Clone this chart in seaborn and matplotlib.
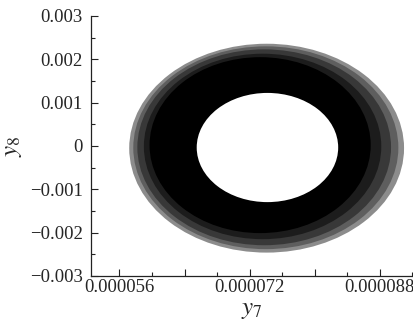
import matplotlib
matplotlib.use("Agg")
import matplotlib.pyplot as plt
import matplotlib.ticker as mtick
from matplotlib.patches import Ellipse
import pandas as pd
import seaborn as sns

# annulus: layers from outside in (y7, y8 data units)
layer_names = ["edge", "outer", "middle", "inner", "core", "hole"]
center_x = [74.1e-6, 74.0e-6, 73.8e-6, 73.6e-6, 73.3e-6, 74.2e-6]
center_y = [-0.00005, -0.00004, -0.00003, -0.00001, 0.00002, -0.000035]
half_width = [16.9e-6, 16.3e-6, 15.6e-6, 14.6e-6, 13.6e-6, 8.7e-6]
half_height = [0.00241, 0.00234, 0.00226, 0.00214, 0.00203, 0.00126]

x_labelled = [0.000056, 0.000072, 0.000088]
y_ticks = [-0.003, -0.002, -0.001, 0, 0.001, 0.002, 0.003]

layers = pd.DataFrame({"layer": layer_names, "cx": center_x, "cy": center_y,
                       "hw": half_width, "hh": half_height})
shades = {"edge": "#8c8c8c", "outer": "#5e5e5e", "middle": "#383838",
          "inner": "#1c1c1c", "core": "#000000", "hole": "#ffffff"}

sns.set_style("ticks")
plt.rcParams["font.family"] = ["Liberation Serif", "DejaVu Serif"]
plt.rcParams["mathtext.fontset"] = "stix"
plt.rcParams["axes.unicode_minus"] = True

fig = plt.figure(figsize=(4.14, 3.21), dpi=100)
ax = fig.add_axes([91 / 414, 45 / 321, 322 / 414, 260 / 321])

for _, row in layers.iterrows():
    ax.add_patch(Ellipse((row.cx, row.cy), 2 * row.hw, 2 * row.hh,
                         facecolor=shades[row.layer], edgecolor="none"))

ax.set_xlim(52.5e-6, 92.1e-6)
ax.set_ylim(-0.003, 0.003)

ax.xaxis.set_major_locator(mtick.MultipleLocator(8e-6))
ax.xaxis.set_minor_locator(mtick.MultipleLocator(4e-6))
def xfmt(v, pos):
    for t in x_labelled:
        if abs(v - t) < 1e-9:
            return f"{t:.6f}"
    return ""
ax.xaxis.set_major_formatter(mtick.FuncFormatter(xfmt))

ax.yaxis.set_major_locator(mtick.FixedLocator(y_ticks))
ax.yaxis.set_minor_locator(mtick.MultipleLocator(0.0005))
def yfmt(v, pos):
    if abs(v) < 1e-12:
        return "0"
    return f"{v:.3f}".replace("-", "\u2212")
ax.yaxis.set_major_formatter(mtick.FuncFormatter(yfmt))

ax.tick_params(which="both", direction="in", labelsize=13.5, width=0.8, color="#222222")
ax.tick_params(which="major", length=5)
ax.tick_params(which="minor", length=3)
ax.tick_params(axis="y", pad=6)
ax.tick_params(axis="x", pad=2)

sns.despine(ax=ax)
for s in ["left", "bottom"]:
    ax.spines[s].set_linewidth(0.9)
    ax.spines[s].set_color("#222222")

ax.set_xlabel(r"$y_7$", fontsize=18, labelpad=2)
ax.set_ylabel(r"$y_8$", fontsize=18, labelpad=4)

fig.savefig("out.png", dpi=100)
